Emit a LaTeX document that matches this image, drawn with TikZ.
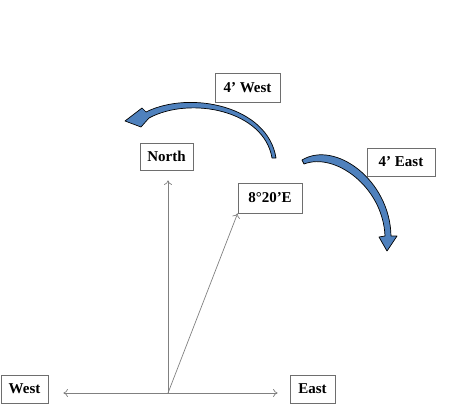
\documentclass[tikz,border=0pt]{standalone}
\usepackage{fontspec}
\setmainfont{Liberation Serif}
\usetikzlibrary{positioning,arrows.meta}
\definecolor{cline}{HTML}{808080}
\definecolor{cbox}{HTML}{6E6E6E}
\definecolor{cturn}{HTML}{4F81BD}
\tikzset{
  lbl/.style={rectangle, draw=cbox, fill=white, line width=0.8pt, inner sep=1pt,
              align=center, font=\bfseries\fontsize{15}{17}\selectfont},
  axis/.style={-{To[length=4.5pt,width=8pt]}, line width=0.7pt, draw=cline},
  turn/.style={fill=cturn, draw=black, line width=0.7pt, line join=round}
}

\begin{document}
\begin{tikzpicture}[x=1pt, y=-1pt]
\useasboundingbox (0,0) rectangle (452,417);
\coordinate (o) at (168,393);
\node[lbl, minimum width=53pt, minimum height=27pt] (north) at (166.5,156.5) {North};
\node[lbl, minimum width=47pt, minimum height=28pt] (west) at (24.5,389) {West};
\node[lbl, minimum width=45pt, minimum height=28pt] (east) at (312.5,389) {East};
\node[lbl, minimum width=64pt, minimum height=30pt] (e820) at (270,198) {8°20’E};
\node[lbl, minimum width=65pt, minimum height=29pt] (wturn) at (247.5,87.5) {4’ West};
\node[lbl, minimum width=68pt, minimum height=28pt] (eturn) at (401,162) {4’ East};

% compass lines
\draw[axis, shorten >=10pt] (o) -- (o |- north.south);
\draw[axis, shorten >=15pt] (o) -- (o -| west.east);
\draw[axis, shorten >=12pt] (o) -- (o -| east.west);
\draw[axis] (o) -- (e820.south west);

% turning arrows
\draw[turn] (276,158) .. controls (268,106) and (190,90) .. (146,112)
  -- (142,108) -- (125,121) -- (141,127) -- (149,118)
  .. controls (190,96) and (264,110) .. (272,158) -- cycle;
\draw[turn] (302,160) .. controls (335,140) and (390,180) .. (391,236)
  -- (397,236) -- (387,251) -- (379,237) -- (385,236)
  .. controls (383,187) and (335,152) .. (304,164) -- cycle;
\end{tikzpicture}
\end{document}
